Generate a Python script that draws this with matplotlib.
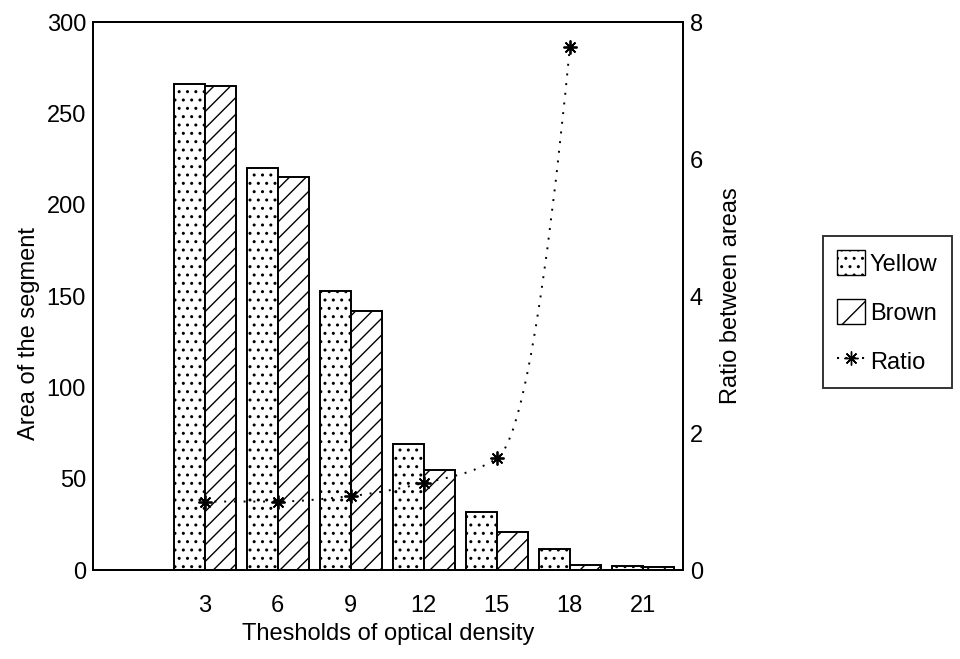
import matplotlib
matplotlib.use("Agg")
import matplotlib.pyplot as plt
import numpy as np
from matplotlib.path import Path
from matplotlib.patches import PathPatch, Patch
from matplotlib.lines import Line2D

plt.rcParams["font.family"] = ["Liberation Sans", "DejaVu Sans"]
plt.rcParams["hatch.linewidth"] = 1.0

# data
thresholds = ["3", "6", "9", "12", "15", "18", "21"]
yellow = [266, 220, 153, 69, 32, 11.5, 2]
brown = [265, 215, 142, 55, 21, 2.5, 1.5]
ratio = [1.0, 1.0, 1.08, 1.27, 1.63, 7.63]  # no ratio for the last threshold


def smooth_path(xs, ys, end_steep=11.0):
    """Monotone cubic (hermite -> bezier) through the points, drawing only."""
    xs = np.asarray(xs, float)
    ys = np.asarray(ys, float)
    d = np.diff(ys) / np.diff(xs)
    m = np.zeros_like(ys)
    m[0] = d[0]
    for i in range(1, len(ys) - 1):
        if d[i - 1] * d[i] > 0:
            m[i] = 2 * d[i - 1] * d[i] / (d[i - 1] + d[i])
    m[-1] = end_steep
    verts = [(xs[0], ys[0])]
    codes = [Path.MOVETO]
    for i in range(len(xs) - 1):
        h = xs[i + 1] - xs[i]
        verts += [(xs[i] + h / 3, ys[i] + m[i] * h / 3),
                  (xs[i + 1] - h / 3, ys[i + 1] - m[i + 1] * h / 3),
                  (xs[i + 1], ys[i + 1])]
        codes += [Path.CURVE4] * 3
    return Path(verts, codes)


fig = plt.figure(figsize=(9.6, 6.59), dpi=100)
ax = fig.add_axes([0.0969, 0.135, 0.6146, 0.8316])
ax2 = ax.twinx()

x = np.arange(len(thresholds))
w = 0.425
ax.bar(x - w / 2, yellow, w, color="white", edgecolor="black", hatch="..", lw=1.4)
ax.bar(x + w / 2, brown, w, color="white", edgecolor="black", hatch="//", lw=1.4)

ax.set_xlim(-1.53, 6.55)
ax.set_ylim(0, 300)
ax.set_yticks([0, 50, 100, 150, 200, 250, 300])
ax.set_xticks(x)
ax.set_xticklabels(thresholds)
ax.tick_params(axis="x", length=0, labelsize=17, pad=18)
ax.tick_params(axis="y", length=0, labelsize=17, pad=5)
ax.set_ylabel("Area of the segment", fontsize=17, labelpad=5, y=0.432)
ax.set_xlabel("Thesholds of optical density", fontsize=17, labelpad=4)

xr = x[:len(ratio)]
ax2.add_patch(PathPatch(smooth_path(xr, ratio), fill=False, ls=(0, (1, 4)),
                        lw=1.4, color="black"))
ax2.plot(xr, ratio, ls="none", marker=(8, 2, 0), ms=10, mew=1.3, color="black")
ax2.set_ylim(0, 8)
ax2.set_yticks([0, 2, 4, 6, 8])
ax2.tick_params(length=0, labelsize=17, pad=5)
ax2.set_ylabel("Ratio between areas", fontsize=17, labelpad=12)

for a in (ax, ax2):
    for s in a.spines.values():
        s.set_linewidth(1.4)

handles = [
    Patch(facecolor="white", edgecolor="black", hatch="..", label="Yellow"),
    Patch(facecolor="white", edgecolor="black", hatch="/", label="Brown"),
    Line2D([], [], ls=(0, (1, 3)), color="black", marker=(8, 2, 0), ms=10,
           label="Ratio"),
]
leg = fig.legend(handles=handles, loc="upper left", bbox_to_anchor=(0.857, 0.642),
                 bbox_transform=fig.transFigure, fontsize=17, frameon=True,
                 fancybox=False, edgecolor="black", handlelength=1.2,
                 handleheight=1.25, handletextpad=0.2, labelspacing=1.0,
                 borderpad=0.6, borderaxespad=0)
leg.get_frame().set_linewidth(1.4)

fig.savefig("out.png", dpi=100)
